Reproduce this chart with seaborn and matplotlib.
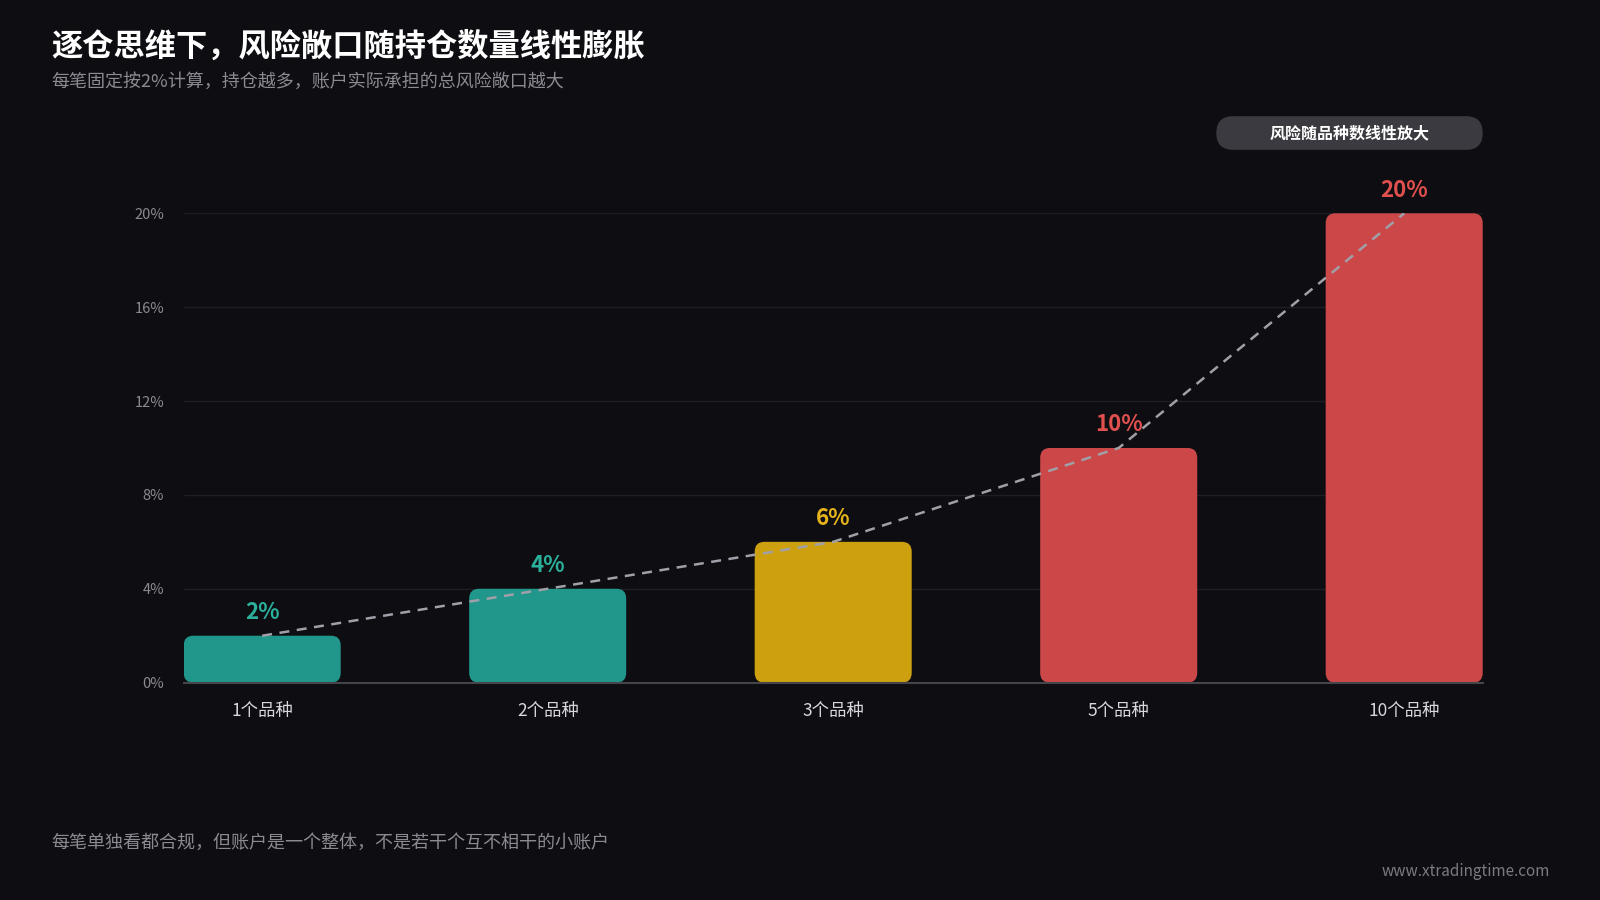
import matplotlib
matplotlib.use("Agg")
import matplotlib.pyplot as plt
from matplotlib.patches import FancyBboxPatch
import seaborn as sns
import pandas as pd

categories = ["1个品种", "2个品种", "3个品种", "5个品种", "10个品种"]
values = [2, 4, 6, 10, 20]
bar_colors = ["#21968a", "#21968a", "#cca00e", "#cc4848", "#cc4848"]
label_colors = ["#2bb09c", "#2bb09c", "#e6b41a", "#e0504e", "#e0504e"]
yticks = [0, 4, 8, 12, 16, 20]

BG = "#0e0e12"
sns.set_theme(style="dark")
plt.rcParams["font.family"] = ["Noto Sans CJK SC", "DejaVu Sans"]

df = pd.DataFrame({"cat": categories, "val": values})
fig = plt.figure(figsize=(16, 9), dpi=100, facecolor=BG)
ax = fig.add_axes([0.1148, 0.2415, 0.8119, 0.5215])
ax.set_facecolor(BG)

w = 0.55
sns.barplot(data=df, x="cat", y="val", ax=ax, width=w, palette=bar_colors,
            hue="cat", legend=False, saturation=1)
# swap plain bars for rounded ones (~10px corners)
for p, c in zip(list(ax.patches), bar_colors):
    x0, h = p.get_x(), p.get_height()
    p.remove()
    ax.add_patch(FancyBboxPatch((x0, 0), w, h, boxstyle="round,pad=0,rounding_size=0.034",
                                mutation_aspect=12.3, fc=c, ec="none", zorder=2))

ax.plot(range(len(values)), values, ls=(0, (4, 3)), color="#a0a0a8", lw=1.8, zorder=3)
for i, (v, c) in enumerate(zip(values, label_colors)):
    ax.text(i, v + 0.5, f"{v}%", ha="center", va="bottom", color=c,
            fontsize=16, fontweight="bold", zorder=4)

ax.set_xlim(-w / 2, len(values) - 1 + w / 2)
ax.set_ylim(0, 20)
ax.set_yticks(yticks)
ax.set_yticklabels([f"{t}%" for t in yticks], color="#8a8a92", fontsize=10.5)
ax.tick_params(axis="y", length=0, pad=14)
ax.tick_params(axis="x", length=0, pad=14, labelcolor="#d8d8dc", labelsize=12.5)
ax.set_xlabel("")
ax.set_ylabel("")
ax.grid(axis="y", color="#1e1e24", lw=1)
ax.grid(axis="x", visible=False)
for s in ["top", "right", "left"]:
    ax.spines[s].set_visible(False)
ax.spines["bottom"].set_color("#44444a")
ax.spines["bottom"].set_linewidth(1.5)
ax.set_axisbelow(True)

fig.text(0.032, 0.948, "逐仓思维下，风险敞口随持仓数量线性膨胀", color="white",
         fontsize=22.5, fontweight="bold", va="center")
fig.text(0.032, 0.909, "每笔固定按2%计算，持仓越多，账户实际承担的总风险敞口越大",
         color="#8a8a92", fontsize=13, va="center")
fig.text(0.032, 0.063, "每笔单独看都合规，但账户是一个整体，不是若干个互不相干的小账户",
         color="#8a8a92", fontsize=13, va="center")
fig.text(0.969, 0.032, "www.xtradingtime.com", color="#7a7a82", fontsize=11,
         ha="right", va="center")

badge = FancyBboxPatch((0.7602, 0.8335), 0.1665, 0.0374,
                       boxstyle="round,pad=0,rounding_size=0.0105",
                       mutation_aspect=16 / 9, transform=fig.transFigure,
                       fc="#3a3a40", ec="none")
fig.patches.append(badge)
fig.text(0.8435, 0.8522, "风险随品种数线性放大", color="white", fontsize=11.5,
         fontweight="bold", ha="center", va="center")

fig.savefig("out.png", dpi=100, facecolor=BG)
